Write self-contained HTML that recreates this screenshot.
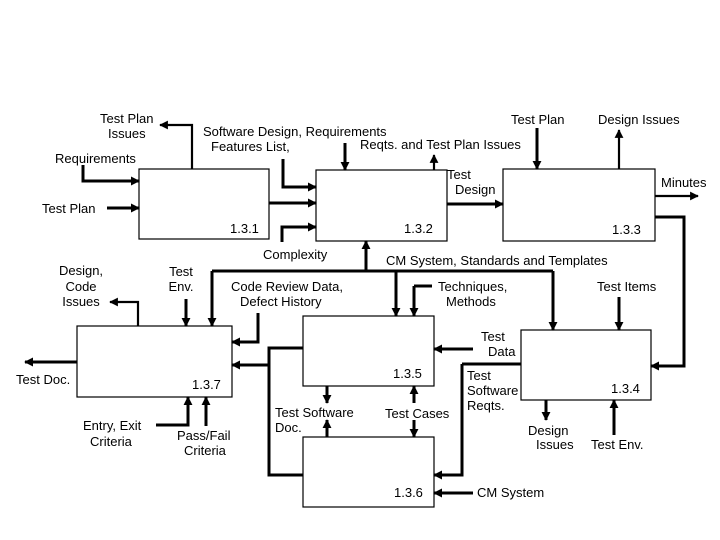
<!DOCTYPE html>
<html><head><meta charset="utf-8"><style>
html,body{margin:0;padding:0;background:#fff;width:720px;height:540px;overflow:hidden}
svg text{font-family:"Liberation Sans",Arial,sans-serif;font-size:13px;fill:#000}
</style></head><body>
<svg width="720" height="540" viewBox="0 0 720 540" xmlns="http://www.w3.org/2000/svg">
<defs>
<marker id="a" viewBox="0 0 10 10" refX="9" refY="5" markerWidth="3" markerHeight="3" orient="auto" markerUnits="strokeWidth"><path d="M0,0L10,5L0,10z" fill="#000"/></marker>
<marker id="b" viewBox="0 0 10 10" refX="9" refY="5" markerWidth="4" markerHeight="4" orient="auto" markerUnits="strokeWidth"><path d="M0,0L10,5L0,10z" fill="#000"/></marker>
</defs>
<g fill="none" stroke="#000" stroke-width="1.2">
<rect x="139" y="169" width="130" height="70"/>
<rect x="316" y="170" width="131" height="71"/>
<rect x="503" y="169" width="152" height="72"/>
<rect x="77" y="326" width="155" height="71"/>
<rect x="303" y="316" width="131" height="70"/>
<rect x="303" y="437" width="131" height="70"/>
<rect x="521" y="330" width="130" height="70"/>
</g>
<g fill="none" stroke="#000" stroke-width="3" marker-end="url(#a)">
<path d="M83,165V181H139"/>
<path d="M107,208H139"/>
<path d="M269,203H316"/>
<path d="M283,159V187H316"/>
<path d="M282,242V227H316"/>
<path d="M345,143V170"/>
<path d="M447,204H503"/>
<path d="M537,128V169"/>
<path d="M655,217H684V366H651"/>
<path d="M366,271V241"/>
<path d="M396,271V316"/>
<path d="M414,286V316"/>
<path d="M619,297V330"/>
<path d="M473,349H434"/>
<path d="M462,364V475H434"/>
<path d="M473,493H434"/>
<path d="M327,386V403"/>
<path d="M327,437V420"/>
<path d="M414,403V386"/>
<path d="M414,420V437"/>
<path d="M546,400V420"/>
<path d="M614,435V400"/>
<path d="M269,365H232"/>
<path d="M258,313V342H232"/>
<path d="M186,299V326"/>
<path d="M77,362H25"/>
<path d="M156,425H188V397"/>
<path d="M206,426V397"/>
<path d="M212,271V326"/>
<path d="M553,271V330"/>
</g>
<g fill="none" stroke="#000" stroke-width="2.2" marker-end="url(#b)">
<path d="M192,169V125H160"/>
<path d="M434,170V155"/>
<path d="M619,169V130"/>
<path d="M655,196H698"/>
<path d="M138,326V302H110"/>
</g>
<g fill="none" stroke="#000" stroke-width="3">
<path d="M212,271H553"/>
<path d="M414,286H432"/>
<path d="M521,364H462"/>
<path d="M303,348H269V475H303"/>
</g>
<text x="100" y="123">Test Plan</text>
<text x="108" y="138">Issues</text>
<text x="55" y="163">Requirements</text>
<text x="42" y="213">Test Plan</text>
<text x="203" y="136">Software Design, Requirements</text>
<text x="211" y="151">Features List,</text>
<text x="360" y="149">Reqts. and Test Plan Issues</text>
<text x="511" y="124">Test Plan</text>
<text x="598" y="124">Design Issues</text>
<text x="447" y="179">Test</text>
<text x="455" y="194">Design</text>
<text x="661" y="187">Minutes</text>
<text x="230" y="233">1.3.1</text>
<text x="404" y="233">1.3.2</text>
<text x="612" y="234">1.3.3</text>
<text x="263" y="259">Complexity</text>
<text x="386" y="265">CM System, Standards and Templates</text>
<text x="81" y="275" text-anchor="middle">Design,</text>
<text x="81" y="291" text-anchor="middle">Code</text>
<text x="81" y="306" text-anchor="middle">Issues</text>
<text x="181" y="276" text-anchor="middle">Test</text>
<text x="181" y="291" text-anchor="middle">Env.</text>
<text x="231" y="291">Code Review Data,</text>
<text x="240" y="306">Defect History</text>
<text x="438" y="291">Techniques,</text>
<text x="446" y="306">Methods</text>
<text x="597" y="291">Test Items</text>
<text x="481" y="341">Test</text>
<text x="488" y="356">Data</text>
<text x="16" y="384">Test Doc.</text>
<text x="192" y="389">1.3.7</text>
<text x="393" y="378">1.3.5</text>
<text x="467" y="380">Test</text>
<text x="467" y="395">Software</text>
<text x="467" y="410">Reqts.</text>
<text x="611" y="393">1.3.4</text>
<text x="83" y="430">Entry, Exit</text>
<text x="90" y="446">Criteria</text>
<text x="177" y="440">Pass/Fail</text>
<text x="184" y="455">Criteria</text>
<text x="275" y="417">Test Software</text>
<text x="275" y="432">Doc.</text>
<text x="385" y="418">Test Cases</text>
<text x="528" y="435">Design</text>
<text x="536" y="449">Issues</text>
<text x="591" y="449">Test Env.</text>
<text x="394" y="497">1.3.6</text>
<text x="477" y="497">CM System</text>
</svg>
</body></html>
